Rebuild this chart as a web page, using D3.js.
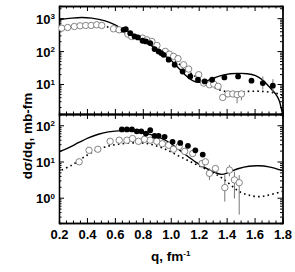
<!DOCTYPE html>
<head>
  <meta charset="utf-8">
  <script src="https://d3js.org/d3.v7.min.js"></script>
  <style>
    body { margin:0; background:#fff; }
    text { font-family: "Liberation Sans", Arial, sans-serif; font-weight: bold; }
  </style>
</head>
<body>
<script>
// values (q in fm^-1, dσ/dq in mb-fm)
const xTicks = [0.2, 0.4, 0.6, 0.8, 1.0, 1.2, 1.4, 1.6, 1.8];

// upper panel
const topSolidQ = [0.2,0.291,0.363,0.434,0.53,0.602,0.65,0.71,0.769,0.829,0.889,0.949,1.009,1.068,1.128,1.176,1.224,1.272,1.32,1.367,1.427,1.487,1.547,1.607,1.655,1.702,1.75,1.774,1.8];
const topSolidY = [890,1000,1047,1000,830,628,475,343,248,175,123,77,49,27,15.2,11.7,11.5,13.2,15.8,18.3,20.6,21,20.6,17.9,13.5,8.5,5.0,3.35,1.25];
const topDotQ = [0.2,0.291,0.41,0.506,0.578,0.65,0.769,0.889,1.009,1.128,1.2,1.272,1.367,1.463,1.559,1.655,1.75,1.8];
const topDotY = [500,546,600,586,497,377,237,129,59,24,14.5,9.5,6.3,5.7,6.0,6.0,5.3,4.5];
const topFullQ = [0.662,0.678,0.71,0.741,0.765,0.798,0.822,0.853,0.884,0.913,0.932,0.949,0.985,1.028,1.085,1.14,1.195,1.243,1.296,1.384,1.482,1.578,1.659,1.731];
const topFullY = [443,464,351,278,260,206,196,175,115,98,87,77,55,38.5,24,17,13.5,12,13.5,15.9,17,12.6,10.7,8.9];
const topFullLo = [null,null,null,null,null,null,null,null,null,null,null,null,null,null,null,null,null,null,null,null,null,null,6.8,5.6];
const topFullHi = [null,null,null,null,null,null,null,null,null,null,null,null,null,null,null,null,null,null,null,null,null,null,17,14];
const topOpenQ = [0.219,0.262,0.31,0.351,0.391,0.43,0.47,0.506,0.59,0.63,0.693,0.72,0.798,0.829,0.865,0.901,0.961,0.99,1.02,1.052,1.092,1.128,1.2,1.236,1.277,1.308,1.339,1.372,1.41,1.444,1.475,1.506];
const topOpenY = [497,521,559,586,600,600,628,600,475,443,327,278,248,220,196,149,98,81,69,59,38.5,28.5,19.2,10.7,9.5,10,8.5,3.9,5.0,5.0,4.75,5.0];
const topOpenLo = [null,null,null,null,null,null,null,null,null,null,null,null,null,null,null,null,null,null,null,null,null,null,null,null,null,null,null,null,null,null,2.6,3.2];
const topOpenHi = [null,null,null,null,null,null,null,null,null,null,null,null,null,null,null,null,null,null,null,null,null,null,null,null,null,null,null,null,null,null,5.6,6.0];

// lower panel
const botSolidQ = [0.2,0.267,0.339,0.41,0.482,0.554,0.65,0.745,0.817,0.889,0.961,1.033,1.104,1.176,1.248,1.32,1.367,1.415,1.487,1.559,1.631,1.702,1.8];
const botSolidY = [18.5,23.8,33,45,56.5,65.6,71,68,60,51,38.6,25.4,15.6,9.8,6.7,4.9,4.4,5.0,6.4,7.4,7.6,7.1,5.6];
const botDotQ = [0.219,0.291,0.363,0.434,0.53,0.65,0.769,0.865,0.961,1.056,1.152,1.248,1.344,1.415,1.487,1.559,1.631,1.702,1.8];
const botDotY = [5.8,7.9,12.1,17.7,25.3,31,32.7,29.4,21.8,14.3,9.4,6.2,4.0,2.5,1.5,1.18,1.07,1.18,1.5];
const botFullQ = [0.65,0.686,0.722,0.757,0.789,0.822,0.853,0.884,0.913,0.956,1.013,1.068,1.123,1.176,1.229];
const botFullY = [77,77,77,68,68,59,73,51,51,48,35,32.5,27,20.4,15.5];
const botOpenQ = [0.344,0.415,0.478,0.566,0.631,0.686,0.726,0.769,0.812,0.853,0.9,0.94,0.985,1.02,1.06,1.1,1.157,1.224,1.248,1.277,1.32,1.387,1.42,1.456,1.49];
const botOpenY = [9.8,20.4,21.8,36,38.7,38.7,43,36,41,38.7,36,31,28,21.8,26,19,16.6,8.8,9.8,4.7,6.4,1.9,5.8,3.1,2.6];
const botOpenLo = [null,null,null,null,null,null,null,null,null,null,null,null,null,null,null,null,null,6.5,null,3.1,4.7,0.78,3.9,0.95,0.34];
const botOpenHi = [null,null,null,null,null,null,null,null,null,null,null,null,null,null,null,null,null,11,null,6.5,7.9,4.2,8.0,5.2,4.2];

const W = 295, H = 272;
const L = 59, R = 282.5;
const svg = d3.select("body").append("svg").attr("width", W).attr("height", H);

const x = d3.scaleLinear().domain([0.2, 1.8]).range([L, R]);

const panels = [
  { top: 6, bottom: 114, domain: [1.23, 2340], majors: [10, 100, 1000],
    solid: [topSolidQ, topSolidY], dot: [topDotQ, topDotY],
    full: [topFullQ, topFullY, topFullLo, topFullHi], open: [topOpenQ, topOpenY, topOpenLo, topOpenHi] },
  { top: 114, bottom: 223, domain: [0.2, 205], majors: [1, 10, 100],
    solid: [botSolidQ, botSolidY], dot: [botDotQ, botDotY],
    full: [botFullQ, botFullY, null, null], open: [botOpenQ, botOpenY, botOpenLo, botOpenHi] }
];

const xMinor = d3.range(0.2, 1.8001, 0.05).filter(v => Math.abs(v * 5 - Math.round(v * 5)) > 1e-6);

panels.forEach(function (p, pi) {
  const y = d3.scaleLog().domain(p.domain).range([p.bottom, p.top]);
  const g = svg.append("g");
  const clipId = "clip" + pi;
  svg.append("clipPath").attr("id", clipId).append("rect")
     .attr("x", L).attr("y", p.top).attr("width", R - L).attr("height", p.bottom - p.top);

  const minors = y.ticks().filter(v => p.majors.indexOf(v) < 0);

  // y axes, ticks inside
  const yl = g.append("g").attr("transform", `translate(${L},0)`)
      .call(d3.axisLeft(y).tickValues(p.majors).tickSizeInner(-5).tickSizeOuter(0).tickPadding(4));
  g.append("g").attr("transform", `translate(${L},0)`)
      .call(d3.axisLeft(y).tickValues(minors).tickSize(-2.5).tickFormat(""));
  g.append("g").attr("transform", `translate(${R},0)`)
      .call(d3.axisRight(y).tickValues(p.majors).tickSizeInner(-5).tickSizeOuter(0).tickFormat(""));
  g.append("g").attr("transform", `translate(${R},0)`)
      .call(d3.axisRight(y).tickValues(minors).tickSize(-2.5).tickFormat(""));

  yl.selectAll(".tick text").each(function (d) {
    const t = d3.select(this).text(null).attr("font-size", 13).attr("dy", "0.38em");
    t.append("tspan").text("10");
    t.append("tspan").attr("dy", "-0.55em").attr("font-size", 8).text(Math.round(Math.log10(d)));
  });

  // x axes, ticks inside, top and bottom of each panel
  g.append("g").attr("transform", `translate(0,${p.bottom})`)
      .call(d3.axisBottom(x).tickValues(xTicks).tickSizeInner(-5).tickSizeOuter(0)
        .tickFormat(pi === 1 ? d3.format(".1f") : "").tickPadding(7))
      .selectAll(".tick text").attr("font-size", 13);
  g.append("g").attr("transform", `translate(0,${p.bottom})`)
      .call(d3.axisBottom(x).tickValues(xMinor).tickSize(-2.5).tickFormat(""));
  g.append("g").attr("transform", `translate(0,${p.top})`)
      .call(d3.axisTop(x).tickValues(xTicks).tickSizeInner(-5).tickSizeOuter(0).tickFormat(""));
  g.append("g").attr("transform", `translate(0,${p.top})`)
      .call(d3.axisTop(x).tickValues(xMinor).tickSize(-2.5).tickFormat(""));

  g.selectAll(".domain").attr("stroke", "#000").attr("stroke-width", 1.3);
  g.selectAll(".tick line").attr("stroke", "#000").attr("stroke-width", 1);
  g.selectAll("text").attr("fill", "#000").attr("font-family", null);

  const plot = svg.append("g").attr("clip-path", `url(#${clipId})`);
  const line = d3.line().x(d => x(d[0])).y(d => y(d[1])).curve(d3.curveCatmullRom);

  plot.append("path").datum(d3.zip(p.dot[0], p.dot[1]))
      .attr("d", line).attr("fill", "none").attr("stroke", "#000")
      .attr("stroke-width", 1.6).attr("stroke-dasharray", "1.6,3.2");
  plot.append("path").datum(d3.zip(p.solid[0], p.solid[1]))
      .attr("d", line).attr("fill", "none").attr("stroke", "#000").attr("stroke-width", 1.4);

  // error bars
  [p.open, p.full].forEach(function (s) {
    if (!s[2]) return;
    s[0].forEach(function (q, i) {
      if (s[2][i] == null) return;
      plot.append("line").attr("x1", x(q)).attr("x2", x(q))
          .attr("y1", y(s[2][i])).attr("y2", y(s[3][i]))
          .attr("stroke", "#777").attr("stroke-width", 1);
    });
  });

  plot.selectAll(null).data(d3.zip(p.open[0], p.open[1])).join("circle")
      .attr("cx", d => x(d[0])).attr("cy", d => y(d[1])).attr("r", 3.2)
      .attr("fill", "#fff").attr("stroke", "#777").attr("stroke-width", 0.9);
  plot.selectAll(null).data(d3.zip(p.full[0], p.full[1])).join("circle")
      .attr("cx", d => x(d[0])).attr("cy", d => y(d[1])).attr("r", 2.9)
      .attr("fill", "#000");
});

// axis titles
svg.append("text").attr("transform", "translate(32,136) rotate(-90)")
   .attr("text-anchor", "middle").attr("font-size", 13.5).text("dσ/dq, mb-fm");
const xl = svg.append("text").attr("x", (L + R) / 2).attr("y", 261)
   .attr("text-anchor", "middle").attr("font-size", 13.5);
xl.append("tspan").text("q, fm");
xl.append("tspan").attr("dy", "-0.6em").attr("font-size", 8).text("-1");
</script>
</body>
